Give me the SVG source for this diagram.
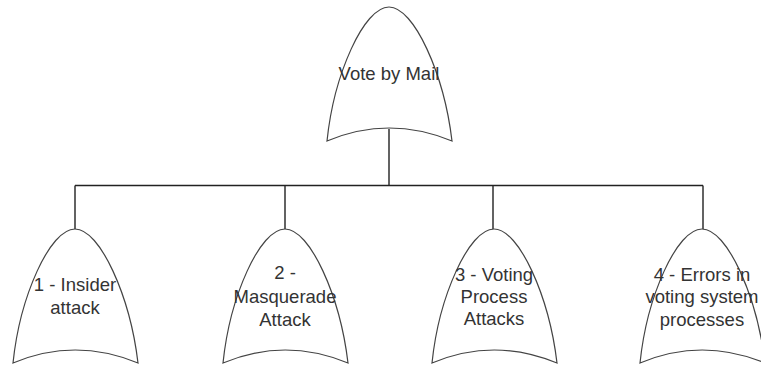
<svg xmlns="http://www.w3.org/2000/svg" width="761" height="365" viewBox="0 0 761 365">
<style>
.gate{fill:#fff;stroke:#444;stroke-width:1.2}
.lbl{font-family:"Liberation Sans",Arial,sans-serif;font-size:18.5px;fill:#333;text-anchor:middle}
.conn{fill:none;stroke:#222;stroke-width:1.4}
</style>
<defs>
<path id="or" d="M-62,67 C-55,0 -25,-67 0,-67 C25,-67 55,0 63,67 Q0,41 -62,67 Z"/>
</defs>
<g id="connectors">
<path class="conn" d="M389,129 V185.5 M75,185.5 H703 M75,185.5 V230 M285,185.5 V230 M493,185.5 V230 M703,185.5 V230"/>
</g>
<g id="vote-by-mail">
<use href="#or" class="gate" transform="translate(389,74)"/>
<text class="lbl" x="389" y="80">Vote by Mail</text>
</g>
<g id="insider-attack">
<use href="#or" class="gate" transform="translate(75,296)"/>
<text class="lbl" x="75" y="291">1 - Insider</text>
<text class="lbl" x="75" y="314">attack</text>
</g>
<g id="masquerade-attack">
<use href="#or" class="gate" transform="translate(285,296)"/>
<text class="lbl" x="285" y="279">2 -</text>
<text class="lbl" x="285" y="303">Masquerade</text>
<text class="lbl" x="285" y="326">Attack</text>
</g>
<g id="voting-process-attacks">
<use href="#or" class="gate" transform="translate(494,296)"/>
<text class="lbl" x="494" y="281">3 - Voting</text>
<text class="lbl" x="494" y="303">Process</text>
<text class="lbl" x="494" y="325">Attacks</text>
</g>
<g id="errors-in-voting">
<use href="#or" class="gate" transform="translate(702,296)"/>
<text class="lbl" x="702" y="281">4 - Errors in</text>
<text class="lbl" x="702" y="303">voting system</text>
<text class="lbl" x="702" y="326">processes</text>
</g>
</svg>
